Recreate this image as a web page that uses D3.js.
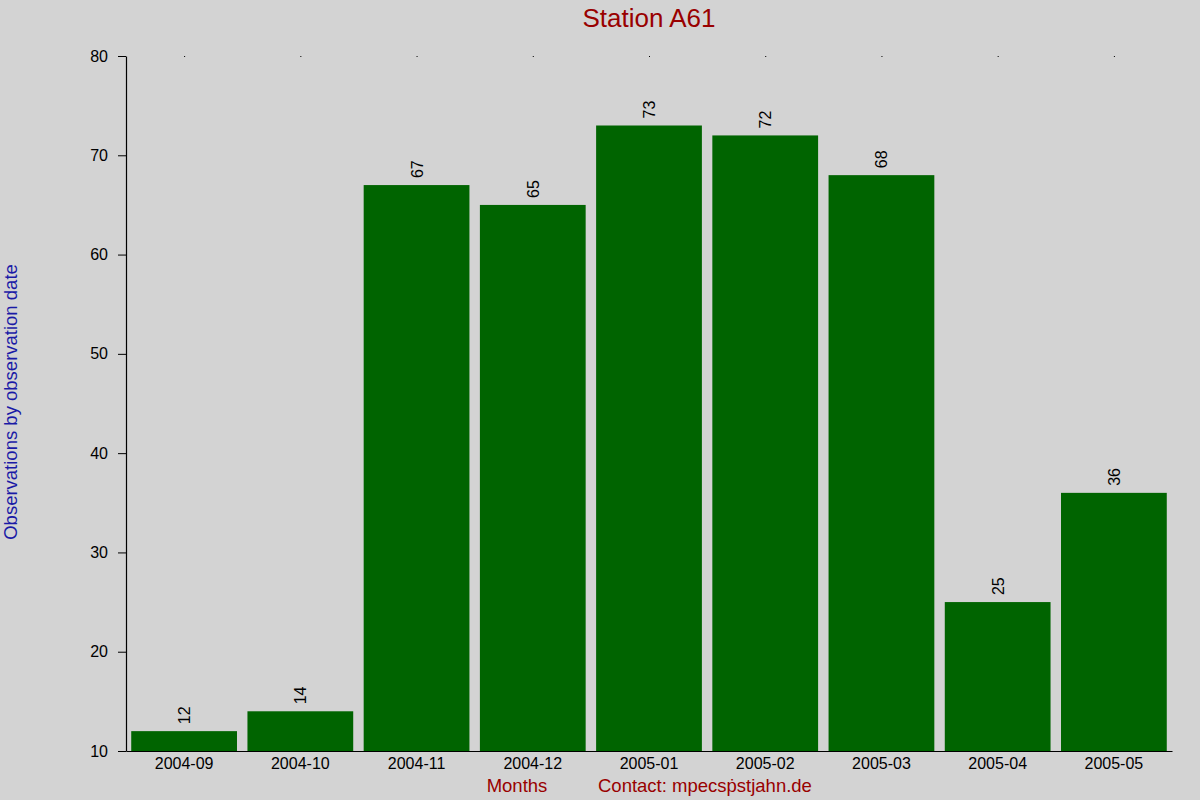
<!DOCTYPE html>
<html>
<head>
<meta charset="utf-8">
<script src="https://cdn.jsdelivr.net/npm/d3@7"></script>
<style>
  body { margin: 0; background: #d3d3d3; }
  svg { display: block; font-family: "Liberation Sans", Arial, sans-serif; }
</style>
</head>
<body>
<div id="wrapper"></div>
<script>
// data
const months = ["2004-09", "2004-10", "2004-11", "2004-12", "2005-01", "2005-02", "2005-03", "2005-04", "2005-05"];
const counts = [12, 14, 67, 65, 73, 72, 68, 25, 36];
const yTicks = [10, 20, 30, 40, 50, 60, 70, 80];

const dimensions = {
  width: 1200,
  height: 800,
  margin: { top: 56, right: 28, bottom: 49, left: 126 },
};
dimensions.boundedWidth = dimensions.width - dimensions.margin.left - dimensions.margin.right;
dimensions.boundedHeight = dimensions.height - dimensions.margin.top - dimensions.margin.bottom;

const svg = d3.select("#wrapper")
  .append("svg")
  .attr("width", dimensions.width)
  .attr("height", dimensions.height);

svg.append("rect")
  .attr("width", dimensions.width)
  .attr("height", dimensions.height)
  .attr("fill", "#d3d3d3");

const bounds = svg.append("g")
  .attr("transform", `translate(${dimensions.margin.left},${dimensions.margin.top})`);

// scales
const xScale = d3.scaleBand()
  .domain(months)
  .range([0, dimensions.boundedWidth])
  .paddingInner(0.09)
  .paddingOuter(0.045);

const yScale = d3.scaleLinear()
  .domain([10, 80])
  .range([dimensions.boundedHeight, 0]);

// bars
bounds.append("g")
  .selectAll("rect")
  .data(counts)
  .join("rect")
  .attr("x", (d, i) => xScale(months[i]))
  .attr("y", d => yScale(d))
  .attr("width", xScale.bandwidth())
  .attr("height", d => dimensions.boundedHeight - yScale(d))
  .attr("fill", "#006400");

// value labels
bounds.append("g")
  .selectAll("text")
  .data(counts)
  .join("text")
  .attr("transform", (d, i) =>
    `translate(${xScale(months[i]) + xScale.bandwidth() / 2 + 6},${yScale(d) - 7}) rotate(-90)`)
  .attr("font-size", 16)
  .attr("fill", "#000")
  .text(d => d);

// top dots
bounds.append("g")
  .selectAll("rect")
  .data(months)
  .join("rect")
  .attr("x", d => xScale(d) + xScale.bandwidth() / 2)
  .attr("y", 0)
  .attr("width", 1)
  .attr("height", 1)
  .attr("fill", "#000");

// y axis
const yAxis = bounds.append("g")
  .call(d3.axisLeft(yScale).tickValues(yTicks).tickSize(8).tickPadding(10).tickSizeOuter(0));
yAxis.select(".domain").attr("stroke", "#000").attr("stroke-width", 1.2);
yAxis.selectAll(".tick line").attr("stroke", "#000");
yAxis.selectAll(".tick text")
  .attr("font-size", 16)
  .attr("font-family", "Liberation Sans, Arial, sans-serif")
  .attr("fill", "#000");

// x axis
const xAxis = bounds.append("g")
  .attr("transform", `translate(0,${dimensions.boundedHeight})`)
  .call(d3.axisBottom(xScale).tickSize(0).tickPadding(7).tickSizeOuter(0));
xAxis.select(".domain").attr("stroke", "#000").attr("stroke-width", 1.2);
xAxis.selectAll(".tick text")
  .attr("font-size", 16)
  .attr("font-family", "Liberation Sans, Arial, sans-serif")
  .attr("fill", "#000");

// titles
svg.append("text")
  .attr("x", dimensions.margin.left + dimensions.boundedWidth / 2)
  .attr("y", 27)
  .attr("text-anchor", "middle")
  .attr("font-size", 26)
  .attr("fill", "#990000")
  .text("Station A61");

svg.append("text")
  .attr("transform", `translate(17,402) rotate(-90)`)
  .attr("text-anchor", "middle")
  .attr("font-size", 18.5)
  .attr("fill", "#1a1aa6")
  .text("Observations by observation date");

svg.append("text")
  .attr("x", 517)
  .attr("y", 792)
  .attr("text-anchor", "middle")
  .attr("font-size", 18.5)
  .attr("fill", "#990000")
  .text("Months");

svg.append("text")
  .attr("x", 598)
  .attr("y", 792)
  .attr("font-size", 18.5)
  .attr("fill", "#990000")
  .text("Contact: mpecsṗstjahn.de");
</script>
</body>
</html>
